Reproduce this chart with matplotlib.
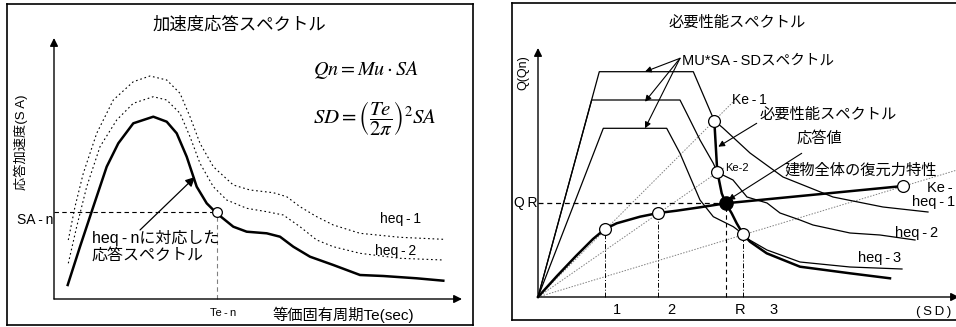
import matplotlib.pyplot as plt
import numpy as np

plt.rcParams['font.family'] = ['Liberation Sans', 'Noto Sans CJK JP', 'DejaVu Sans']
plt.rcParams['mathtext.fontset'] = 'stix'

T = '\u2009'  # thin space, the original labels are letter-spaced

# ---- left panel: acceleration response spectra (Te, SA), drawing units ----
resp_te = [13.7, 26, 39.3, 52.7, 64.3, 79.3, 99.3, 112.7, 122.7, 132.7, 142.7, 152.7,
           162.7, 179.3, 192.7, 212.7, 226, 239.3, 256, 279.3, 306, 329.3, 362.7, 389.3]
resp_sa = [14, 52.3, 92.3, 132.3, 155.7, 175.7, 182.3, 177.3, 165.7, 142.3, 112.3, 95.7,
           85.7, 72.3, 67.3, 65.7, 62.3, 52.3, 42.3, 34, 24, 23, 20.7, 18.3]
heq1_te = [14.3, 21, 29.3, 42.7, 59.3, 79.3, 96, 112.7, 126, 136, 146, 159.3, 179.3, 196,
           219.3, 232.7, 246, 262.7, 279.3, 306, 346, 389.3]
heq1_sa = [59, 92.3, 125.7, 165.7, 199, 217.3, 223, 219, 205.7, 182.3, 155.7, 132.3, 114,
           109, 106.3, 102.3, 92.3, 82.3, 74, 65.7, 61.7, 59.7]
heq2_te = [14.3, 22.7, 32.7, 46, 62.7, 79.3, 99.3, 112.7, 126, 136, 146, 159.3, 172.7,
           192.7, 212.7, 229.3, 246, 262.7, 279.3, 306, 346, 389.3]
heq2_sa = [35.7, 72.3, 112.3, 152.3, 179, 195.7, 202.3, 199, 185.7, 162.3, 135.7, 112.3,
           99, 90.7, 87.3, 84, 72.3, 59, 52.3, 45.7, 40.7, 39]
te_n, sa_n = 162.7, 87.3

# ---- right panel: demand spectrum (SD, Q), drawing units ----
mu1_sd = [0, 61.3, 155.3, 176.3, 185, 212, 245, 295, 345, 390]
mu1_q = [0, 225.3, 225.3, 176.3, 169, 144, 120, 100, 90, 85]
mu2_sd = [0, 53.7, 142, 148.7, 162, 175.3, 179.3, 195, 209, 229, 242, 262, 275, 312, 342, 377]
mu2_q = [0, 197, 197, 183.7, 157, 133.7, 124.7, 117, 100, 94, 84, 77, 72, 64, 62, 57]
mu3_sd = [0, 65.3, 128.7, 142, 152, 162, 175.3, 195.3, 205, 208.7, 229, 262, 312, 364]
mu3_q = [0, 168.7, 168.7, 143.7, 120.3, 97, 80.3, 70.3, 63, 58.7, 47, 35, 30, 28]
need_sd = [176.3, 179.3, 181, 183.7, 187.7, 193.7, 198.7, 205, 212, 228.7, 262, 312, 352]
need_q = [176.3, 124.7, 117, 103.7, 93.7, 83.7, 73.7, 63, 55.3, 43.7, 30.3, 23.7, 18.7]
cap_sd = [0, 19, 38, 55, 67, 78.7, 102, 120.3, 138.7, 162, 187.7, 365.3]
cap_q = [0, 21, 41, 58, 68, 73.7, 80.3, 84, 86.3, 89.7, 93.7, 111]
open_sd = [67, 120.3, 176.3, 179.3, 205, 365.3]
open_q = [68, 84, 176.3, 124.7, 63, 111]
resp_pt = (187.7, 93.7)
ke_slopes = [1.0, 0.695, 0.303]
ke_ends = [196, 186, 420]
step_sd = [67, 120.3, 205]
step_q = [68, 84, 63]
step_labels = ['1', '2', 'R', '3']
step_label_sd = [78.7, 133.7, 202, 235.3]

fig = plt.figure(figsize=(9.56, 3.27), dpi=100)

# ================= left panel =================
axL = fig.add_axes([7 / 956, 2 / 327, 466 / 956, 321 / 327])
axL.set_xlim(-47, 419)
axL.set_ylim(-26, 295)
axL.set_xticks([])
axL.set_yticks([])
for s in axL.spines.values():
    s.set_linewidth(1.2)

arr = dict(arrowstyle='-|>', lw=1.0, color='k', mutation_scale=12, shrinkA=0, shrinkB=0)
axL.annotate('', xy=(0, 261), xytext=(0, 0), arrowprops=arr)
axL.annotate('', xy=(408, 0), xytext=(0, 0), arrowprops=arr)

axL.plot(heq1_te, heq1_sa, color='k', lw=0.8, ls=(0, (1.5, 2.5)))
axL.plot(heq2_te, heq2_sa, color='k', lw=0.8, ls=(0, (1.5, 2.5)))
axL.plot(resp_te, resp_sa, color='k', lw=1.8, solid_joinstyle='round')
axL.plot([0, te_n], [sa_n, sa_n], color='k', lw=0.8, ls=(0, (4, 3)))
axL.plot([te_n, te_n], [0, sa_n], color='gray', lw=0.8, ls=(0, (4, 3)))
axL.plot([te_n], [sa_n], 'o', ms=7, mfc='white', mec='k', mew=0.9)

axL.text(185, 274, '加速度応答スペクトル', ha='center', va='center', fontsize=12.5)
axL.text(-33, 157, '応答加速度(S' + T + 'A)', ha='center', va='center', rotation=90,
         fontsize=9.5)
axL.text(-1, 79, 'SA' + T + '-' + T + 'n', ha='right', va='center', fontsize=10)
axL.text(259, 229, r'$Qn = Mu\cdot SA$', ha='left', va='center', fontsize=14.5)
axL.text(259, 181, r'$SD = \left(\dfrac{Te}{2\pi}\right)^2 SA$', ha='left', va='center',
         fontsize=15)
axL.text(326, 80, 'heq' + T + '-' + T + '1', ha='left', va='center', fontsize=10)
axL.text(321, 48, 'heq' + T + '-' + T + '2', ha='left', va='center', fontsize=10)
axL.text(38, 53, 'heq' + T + '-' + T + 'nに対応した\n応答スペクトル', ha='left',
         va='center', fontsize=11.5, linespacing=1.15)
axL.annotate('', xy=(141, 122), xytext=(86, 69),
             arrowprops=dict(arrowstyle='-|>', lw=0.9, color='k', mutation_scale=14,
                             shrinkA=0, shrinkB=0))
axL.text(169, -14, 'Te' + T + '-' + T + 'n', ha='center', va='center', fontsize=8)
axL.text(218, -16, '等価固有周期Te(sec)', ha='left', va='center', fontsize=11)

# ================= right panel =================
axR = fig.add_axes([512 / 956, 7 / 327, 444 / 956, 317 / 327])
axR.set_xlim(-26, 418)
axR.set_ylim(-23, 294)
axR.set_xticks([])
axR.set_yticks([])
for s in axR.spines.values():
    s.set_linewidth(1.2)
axR.spines['right'].set_visible(False)

axR.annotate('', xy=(0, 249), xytext=(0, 0), arrowprops=arr)
axR.annotate('', xy=(421, 0), xytext=(0, 0), arrowprops=arr, annotation_clip=False)

for k, xe in zip(ke_slopes, ke_ends):
    axR.plot([0, xe], [0, k * xe], color='gray', lw=0.7, ls=(0, (1.5, 1.5)))

axR.plot(mu1_sd, mu1_q, color='k', lw=0.9)
axR.plot(mu2_sd, mu2_q, color='k', lw=0.9)
axR.plot(mu3_sd, mu3_q, color='k', lw=0.9)
axR.plot(need_sd, need_q, color='k', lw=1.8, solid_joinstyle='round')
axR.plot(cap_sd, cap_q, color='k', lw=1.8, solid_joinstyle='round')

axR.plot([0, resp_pt[0]], [resp_pt[1], resp_pt[1]], color='k', lw=0.9, ls=(0, (4, 3)))
axR.plot([resp_pt[0], resp_pt[0]], [0, resp_pt[1]], color='k', lw=0.8, ls=(0, (4, 3)))
for xs, qy in zip(step_sd, step_q):
    axR.plot([xs, xs], [0, qy], color='k', lw=0.7, ls=(0, (5, 2, 1, 2)))

axR.plot(open_sd, open_q, 'o', ls='none', ms=8.5, mfc='white', mec='k', mew=0.9)
axR.plot([resp_pt[0]], [resp_pt[1]], 'o', ms=9.5, color='k')

axR.text(198.7, 274, '必要性能スペクトル', ha='center', va='center', fontsize=11)
axR.text(-15, 224, 'Q(Qn)', ha='center', va='center', rotation=90, fontsize=9)
axR.text(-1, 94, 'Q' + T + 'R', ha='right', va='center', fontsize=10)
for lab, xs in zip(step_labels, step_label_sd):
    axR.text(xs, -12.5, lab, ha='center', va='center', fontsize=10.5)
axR.text(396, -14.5, '(' + T + 'S' + T + 'D' + T + ')', ha='center', va='center',
         fontsize=9.5)

small_arr = dict(arrowstyle='-|>', lw=0.8, color='k', mutation_scale=9,
                 shrinkA=0, shrinkB=0)
for ye in [225.3, 195.3, 168.7]:
    axR.annotate('', xy=(107, ye), xytext=(142, 238.7), arrowprops=small_arr)
axR.text(143.7, 236, 'MU*SA' + T + '-' + T + 'SDスペクトル', ha='left', va='center',
         fontsize=10.5)
axR.text(193.7, 197, 'Ke' + T + '-' + T + '1', ha='left', va='center', fontsize=10)
axR.text(222, 182, '必要性能スペクトル', ha='left', va='center', fontsize=11)
axR.annotate('', xy=(180.3, 150.3), xytext=(218.7, 173.7), arrowprops=small_arr)
axR.text(258.7, 159, '応答値', ha='left', va='center', fontsize=11)
axR.annotate('', xy=(190.3, 97), xytext=(263.7, 143.7), arrowprops=small_arr)
axR.text(187, 129, 'Ke-2', ha='left', va='center', fontsize=8)
axR.text(247, 127, '建物全体の復元力特性', ha='left', va='center', fontsize=11,
         clip_on=False)
axR.text(389, 108.5, 'Ke' + T + '-' + T + '3', ha='left', va='center', fontsize=10.5,
         clip_on=False)
axR.text(373.7, 95.3, 'heq' + T + '-' + T + '1', ha='left', va='center', fontsize=10.5,
         clip_on=False)
axR.text(357, 64.5, 'heq' + T + '-' + T + '2', ha='left', va='center', fontsize=10.5)
axR.text(320.3, 39, 'heq' + T + '-' + T + '3', ha='left', va='center', fontsize=10.5)

fig.savefig('out.png', dpi=100)
